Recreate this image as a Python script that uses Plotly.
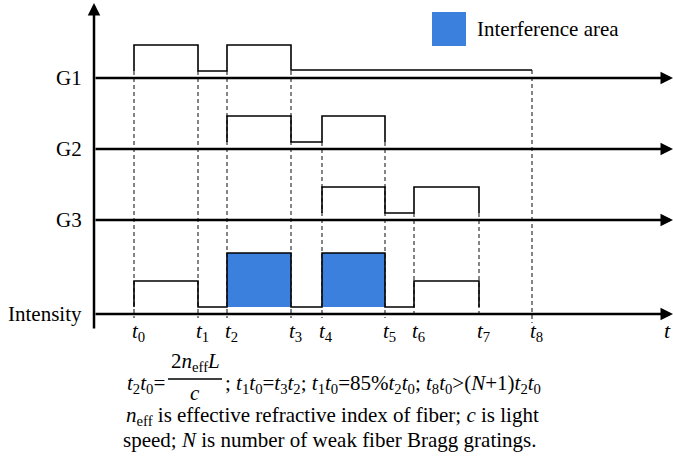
import plotly.graph_objects as go

# time marks t0..t8 along the shared time axis
t_names = ["t0", "t1", "t2", "t3", "t4", "t5", "t6", "t7", "t8"]
t_vals = [134, 198, 227, 291, 322, 385, 414, 479, 532]
T = dict(zip(t_names, t_vals))

# lane baselines (bottom to top) and their labels
lane_labels = ["Intensity", "G3", "G2", "G1"]
lane_base = [0, 94, 165, 236]
BASE = dict(zip(lane_labels, lane_base))

# signal levels above each baseline
LOW, HIGH, PEAK = 7, 33, 61

# step signals: (time mark, level) pairs
g1_steps = [("t0", 7), ("t0", 33), ("t1", 33), ("t1", 7), ("t2", 7), ("t2", 33),
            ("t3", 33), ("t3", 8), ("t8", 8)]
g2_steps = [("t2", 7), ("t2", 33), ("t3", 33), ("t3", 7), ("t4", 7), ("t4", 33),
            ("t5", 33), ("t5", 7)]
g3_steps = [("t4", 7), ("t4", 33), ("t5", 33), ("t5", 7), ("t6", 7), ("t6", 33),
            ("t7", 33), ("t7", 7)]
int_steps = [("t0", 7), ("t0", 33), ("t1", 33), ("t1", 7), ("t2", 7), ("t2", 61),
             ("t3", 61), ("t3", 7), ("t4", 7), ("t4", 61), ("t5", 61), ("t5", 7),
             ("t6", 7), ("t6", 33), ("t7", 33), ("t7", 7)]
signals = {"G1": g1_steps, "G2": g2_steps, "G3": g3_steps, "Intensity": int_steps}

# interference windows on the intensity trace
interference = [("t2", "t3"), ("t4", "t5")]

# dashed guide lines: time mark -> (lane, level) where the guide starts
guides = {"t0": ("G1", 7), "t1": ("G1", 7), "t2": ("G1", 7), "t3": ("G1", 7),
          "t4": ("G2", 7), "t5": ("G2", 7), "t6": ("G3", 7), "t7": ("G3", 7),
          "t8": ("G1", 8)}

FONT = "Liberation Serif"
BLUE = "#3a80dc"
AXIS_X0, AXIS_X1 = 94, 673

fig = go.Figure()

# dashed guides
for name, (lane, lvl) in guides.items():
    y_bot = -9 if name == "t8" else -4
    fig.add_trace(go.Scatter(
        x=[T[name], T[name]], y=[BASE[lane] + lvl, y_bot], mode="lines",
        line=dict(color="#222222", width=1.1, dash="4px,3px"),
        hoverinfo="skip", showlegend=False))

# interference fills
for a, b in interference:
    y0, y1 = BASE["Intensity"] + LOW, BASE["Intensity"] + PEAK
    fig.add_trace(go.Scatter(
        x=[T[a], T[b], T[b], T[a], T[a]], y=[y0, y0, y1, y1, y0],
        mode="lines", fill="toself", fillcolor=BLUE, line=dict(width=0),
        hoverinfo="skip", showlegend=False))

# step signals
for lane, steps in signals.items():
    fig.add_trace(go.Scatter(
        x=[T[n] for n, _ in steps], y=[BASE[lane] + v for _, v in steps],
        mode="lines", line=dict(color="black", width=1.6),
        hoverinfo="skip", showlegend=False))

annotations = []

# lane axes with arrow heads
for lane in lane_labels:
    yb = BASE[lane]
    annotations.append(dict(
        x=AXIS_X1, y=yb, ax=AXIS_X0, ay=yb, xref="x", yref="y", axref="x", ayref="y",
        text="", showarrow=True, arrowhead=2, arrowsize=1.0, arrowwidth=2.5,
        arrowcolor="black", standoff=0))
    annotations.append(dict(
        x=84, y=yb, xref="x", yref="y", text=lane, showarrow=False,
        xanchor="right", yanchor="middle", font=dict(family=FONT, size=21, color="black")))

# vertical axis
annotations.append(dict(
    x=AXIS_X0, y=311, ax=AXIS_X0, ay=-16, xref="x", yref="y", axref="x", ayref="y",
    text="", showarrow=True, arrowhead=2, arrowsize=1.0, arrowwidth=2.5,
    arrowcolor="black", standoff=0))

# time-mark labels
for name, tv in T.items():
    annotations.append(dict(
        x=tv, y=-18, xref="x", yref="y", xshift=4,
        text="<i>t</i><sub>%s</sub>" % name[1:], showarrow=False,
        xanchor="center", yanchor="middle", font=dict(family=FONT, size=21, color="black")))
annotations.append(dict(
    x=667, y=-16, xref="x", yref="y", text="<i>t</i>", showarrow=False,
    xanchor="center", yanchor="middle", font=dict(family=FONT, size=22, color="black")))

# legend entry
fig.add_trace(go.Scatter(
    x=[449], y=[285], mode="markers",
    marker=dict(symbol="square", size=34, color=BLUE, line=dict(width=0)),
    hoverinfo="skip", showlegend=False))
annotations.append(dict(
    x=475, y=285, xref="x", yref="y", text="Interference area", showarrow=False,
    xanchor="left", yanchor="middle", font=dict(family=FONT, size=21, color="black")))

# relations below the chart
tf = dict(family=FONT, size=21, color="black")
annotations.append(dict(
    x=167, y=-70, xref="x", yref="y",
    text="<i>t</i><sub>2</sub><i>t</i><sub>0</sub>=", showarrow=False,
    xanchor="right", yanchor="middle", font=tf))
annotations.append(dict(
    x=195, y=-48, xref="x", yref="y",
    text="2<i>n</i><sub>eff</sub><i>L</i>", showarrow=False,
    xanchor="center", yanchor="middle", font=tf))
annotations.append(dict(
    x=195, y=-79, xref="x", yref="y", text="<i>c</i>", showarrow=False,
    xanchor="center", yanchor="middle", font=tf))
annotations.append(dict(
    x=223, y=-70, xref="x", yref="y",
    text=("; <i>t</i><sub>1</sub><i>t</i><sub>0</sub>=<i>t</i><sub>3</sub><i>t</i><sub>2</sub>; "
          "<i>t</i><sub>1</sub><i>t</i><sub>0</sub>=85%<i>t</i><sub>2</sub><i>t</i><sub>0</sub>; "
          "<i>t</i><sub>8</sub><i>t</i><sub>0</sub>&gt;(<i>N</i>+1)<i>t</i><sub>2</sub><i>t</i><sub>0</sub>"),
    showarrow=False, xanchor="left", yanchor="middle", font=tf))
annotations.append(dict(
    x=124, y=-102, xref="x", yref="y",
    text="<i>n</i><sub>eff</sub> is effective refractive index of fiber; <i>c</i> is light",
    showarrow=False, xanchor="left", yanchor="middle", font=tf))
annotations.append(dict(
    x=121, y=-126, xref="x", yref="y",
    text="speed; <i>N</i> is number of weak fiber Bragg gratings.",
    showarrow=False, xanchor="left", yanchor="middle", font=tf))

shapes = [dict(type="line", xref="x", yref="y", x0=168, x1=222, y0=-65, y1=-65,
               line=dict(color="black", width=1.3))]

fig.update_layout(
    width=673, height=462, margin=dict(l=0, r=0, t=0, b=0),
    paper_bgcolor="white", plot_bgcolor="white",
    xaxis=dict(range=[0, 673], visible=False, fixedrange=True),
    yaxis=dict(range=[-148, 314], visible=False, fixedrange=True),
    annotations=annotations, shapes=shapes, showlegend=False)

fig.write_html("out.html")
